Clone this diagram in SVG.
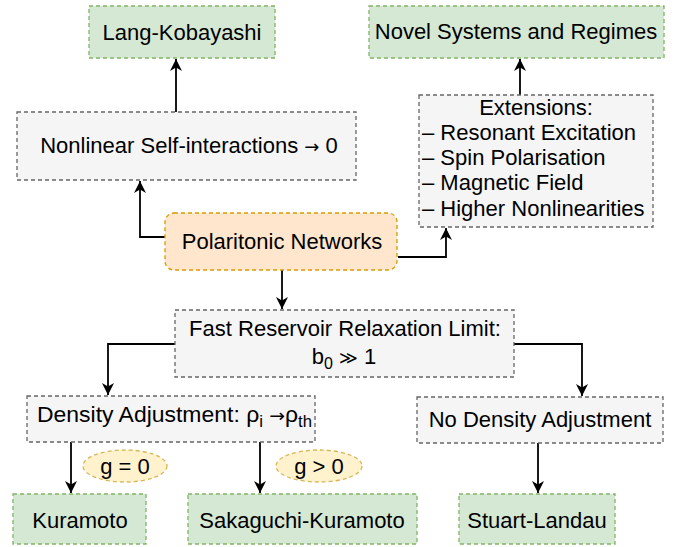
<svg xmlns="http://www.w3.org/2000/svg" width="679" height="547" viewBox="0 0 679 547">
<style>
text{font-family:"Liberation Sans",Arial,sans-serif;font-size:22px;fill:#000}
.g{fill:#d5e8d4;stroke:#82b366;stroke-width:1.3;stroke-dasharray:4 3}
.w{fill:#f5f5f5;stroke:#666666;stroke-width:1.3;stroke-dasharray:4 3}
.o{fill:#ffe6cc;stroke:#d79b00;stroke-width:1.3;stroke-dasharray:4 3}
.y{fill:#fff2cc;stroke:#d6b656;stroke-width:1.3;stroke-dasharray:4 3}
.c{fill:none;stroke:#000;stroke-width:1.8;marker-end:url(#a)}
.m{text-anchor:middle}
.ar{font-family:"DejaVu Sans",sans-serif;font-size:18px}
</style>
<defs>
<marker id="a" markerUnits="userSpaceOnUse" markerWidth="16" markerHeight="16" viewBox="-14 -7 16 14" refX="0" refY="0" orient="auto">
<path d="M0,0 L-12,-6 L-8.5,0 L-12,6 Z" fill="#000"/>
</marker>
</defs>
<g id="connectors">
<path class="c" d="M176,112 V59"/>
<path class="c" d="M520,95 V59"/>
<path class="c" d="M165,237 H140 V181"/>
<path class="c" d="M398,257 H446 V228"/>
<path class="c" d="M282,270 V309"/>
<path class="c" d="M175,344 H108 V395"/>
<path class="c" d="M514,344 H582 V396"/>
<path class="c" d="M71,442 V493"/>
<path class="c" d="M260,442 V493"/>
<path class="c" d="M538,443 V493"/>
</g>
<g id="lang-kobayashi"><rect class="g" x="89" y="6" width="186" height="52"/><text class="m" x="182" y="40">Lang-Kobayashi</text></g>
<g id="novel"><rect class="g" x="369" y="6" width="295" height="52"/><text class="m" x="516" y="39">Novel Systems and Regimes</text></g>
<g id="nonlinear"><rect class="w" x="17" y="112" width="339" height="68"/><text class="m" x="189" y="153">Nonlinear Self-interactions <tspan class="ar">→</tspan> 0</text></g>
<g id="extensions"><rect class="w" x="419" y="95" width="234" height="132"/>
<text class="m" x="536" y="115">Extensions:</text>
<text x="422" y="140">– Resonant Excitation</text>
<text x="422" y="165">– Spin Polarisation</text>
<text x="422" y="190">– Magnetic Field</text>
<text x="422" y="216">– Higher Nonlinearities</text></g>
<g id="polaritonic"><rect class="o" x="165" y="213" width="232" height="57" rx="9"/><text class="m" x="282" y="249">Polaritonic Networks</text></g>
<g id="fast-reservoir"><rect class="w" x="175" y="310" width="339" height="67"/>
<text class="m" x="345" y="336">Fast Reservoir Relaxation Limit:</text>
<text class="m" x="344" y="364">b<tspan font-size="16" dy="5">0</tspan><tspan dy="-5"> <tspan font-size="18">≫</tspan> 1</tspan></text></g>
<g id="density"><rect class="w" x="27" y="396" width="288" height="46"/>
<text x="37" y="422" textLength="275" lengthAdjust="spacingAndGlyphs">Density Adjustment: ρ<tspan font-size="16" dy="5">i</tspan><tspan dy="-5"> <tspan class="ar">→</tspan>ρ</tspan><tspan font-size="16" dy="5">th</tspan></text></g>
<g id="no-density"><rect class="w" x="417" y="397" width="246" height="46"/><text class="m" x="540" y="427">No Density Adjustment</text></g>
<g id="g0"><ellipse class="y" cx="125" cy="466" rx="42" ry="16"/><text class="m" x="125" y="474">g = 0</text></g>
<g id="gpos"><ellipse class="y" cx="319" cy="466" rx="43" ry="16"/><text class="m" x="319" y="474">g &gt; 0</text></g>
<g id="kuramoto"><rect class="g" x="13" y="494" width="133" height="50"/><text class="m" x="80" y="528">Kuramoto</text></g>
<g id="sakaguchi"><rect class="g" x="188" y="494" width="229" height="50"/><text class="m" x="302" y="528">Sakaguchi-Kuramoto</text></g>
<g id="stuart"><rect class="g" x="459" y="494" width="156" height="50"/><text class="m" x="537" y="528">Stuart-Landau</text></g>
</svg>
